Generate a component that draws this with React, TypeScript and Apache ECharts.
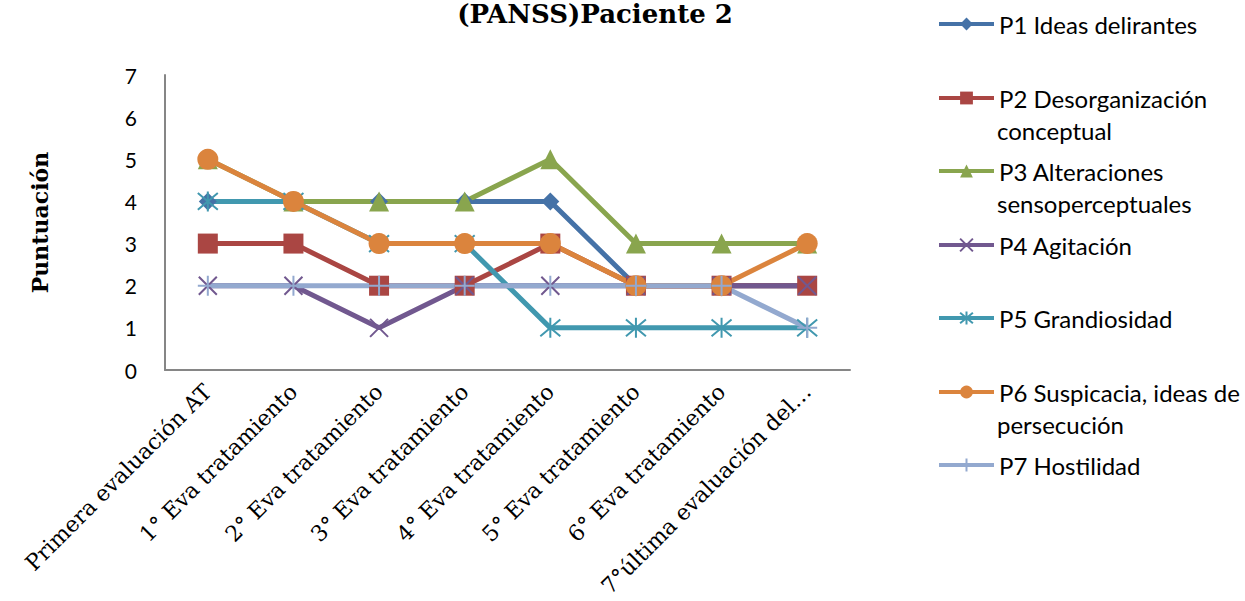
import React, { useEffect, useRef } from "react";
import * as echarts from "echarts";

const categories = [
  "Primera evaluación AT",
  "1° Eva tratamiento",
  "2° Eva tratamiento",
  "3° Eva tratamiento",
  "4° Eva tratamiento",
  "5° Eva tratamiento",
  "6° Eva tratamiento",
  "7°última evaluación del…",
];

const seriesNames = [
  "P1 Ideas delirantes",
  "P2 Desorganización conceptual",
  "P3 Alteraciones sensoperceptuales",
  "P4 Agitación",
  "P5 Grandiosidad",
  "P6 Suspicacia, ideas de persecución",
  "P7 Hostilidad",
];

const p1 = [4, 4, 4, 4, 4, 2, 2, 2];
const p2 = [3, 3, 2, 2, 3, 2, 2, 2];
const p3 = [5, 4, 4, 4, 5, 3, 3, 3];
const p4 = [2, 2, 1, 2, 2, 2, 2, 2];
const p5 = [4, 4, 3, 3, 1, 1, 1, 1];
const p6 = [5, 4, 3, 3, 3, 2, 2, 3];
const p7 = [2, 2, 2, 2, 2, 2, 2, 1];

const yTicks = [0, 1, 2, 3, 4, 5, 6, 7];

const colors = ["#4572A7", "#AA4643", "#89A54E", "#71588F", "#4198AF", "#DB843D", "#93A9CF"];
const symbols = [
  "diamond",
  "rect",
  "triangle",
  "path://M0,0L10,10M10,0L0,10",
  "path://M0,0L10,10M10,0L0,10M5,-1L5,11",
  "circle",
  "path://M5,0L5,10M0,5L10,5",
];
const symbolSizes = [18, 20, 20, 18, 20, 21, 20];

// legend first/second line split
const legendLines: [string, string][] = [
  ["P1 Ideas delirantes", ""],
  ["P2 Desorganización", "conceptual"],
  ["P3 Alteraciones", "sensoperceptuales"],
  ["P4 Agitación", ""],
  ["P5 Grandiosidad", ""],
  ["P6 Suspicacia, ideas de", "persecución"],
  ["P7 Hostilidad", ""],
];
const legendCenters = [24, 98, 171, 245, 318, 392, 465];

export default function App() {
  const ref = useRef<HTMLDivElement>(null);
  useEffect(() => {
    if (!ref.current) return;
    const chart = echarts.init(ref.current, null, { renderer: "svg" });
    const data = [p1, p2, p3, p4, p5, p6, p7];
    const legendFont = "Lato, 'Open Sans', sans-serif";
    const serif = "'DejaVu Serif', 'Liberation Serif', serif";
    const option: any = {
      animation: false,
      backgroundColor: "#ffffff",
      grid: {
        left: 165,
        right: 395,
        top: 75,
        bottom: 231,
        containLabel: false,
        outerBoundsMode: "none",
      },
      xAxis: {
        type: "category",
        data: categories,
        boundaryGap: true,
        axisLine: { show: true, lineStyle: { color: "#868686", width: 2 } },
        axisTick: { show: false },
        axisLabel: {
          rotate: 45,
          interval: 0,
          margin: 18,
          color: "#000",
          fontSize: 22,
          fontFamily: serif,
        },
        splitLine: { show: false },
      },
      yAxis: {
        type: "value",
        min: 0,
        max: 7,
        interval: 1,
        name: "Puntuación",
        nameLocation: "middle",
        nameGap: 114,
        nameTextStyle: {
          fontSize: 22,
          fontWeight: "bold",
          color: "#000",
          fontFamily: serif,
        },
        axisLine: { show: true, lineStyle: { color: "#868686", width: 2 } },
        axisTick: { show: false },
        splitLine: { show: false },
        axisLabel: {
          margin: 28,
          color: "#000",
          fontSize: 21,
          fontFamily: legendFont,
          formatter: (v: number) => (yTicks.includes(v) ? String(v) : ""),
        },
      },
      legend: seriesNames.map((name, i) => ({
        data: [name],
        left: 937,
        top: legendCenters[i] - 14,
        padding: 0,
        orient: "vertical",
        itemWidth: 55,
        itemHeight: 16,
        itemGap: 5,
        selectedMode: false,
        lineStyle: { width: 4 },
        formatter: () => legendLines[i][0],
        textStyle: { fontSize: 24, color: "#000", fontFamily: legendFont, lineHeight: 28 },
      })),
      graphic: [
        {
          type: "text",
          x: 595,
          y: 14,
          style: {
            text: "(PANSS)Paciente 2",
            align: "center",
            verticalAlign: "middle",
            font: `bold 26px ${serif}`,
            fill: "#000",
          },
        },
        ...legendLines
          .map((l, i) => ({ l, i }))
          .filter((o) => o.l[1])
          .map((o) => ({
            type: "text",
            x: 997,
            y: legendCenters[o.i] + 32,
            style: {
              text: o.l[1],
              align: "left",
              verticalAlign: "middle",
              font: `24px ${legendFont}`,
              fill: "#000",
            },
          })),
      ],
      series: seriesNames.map((name, i) => ({
        name,
        type: "line",
        data: data[i],
        symbol: symbols[i],
        symbolSize: symbolSizes[i],
        showSymbol: true,
        lineStyle: { color: colors[i], width: 5 },
        itemStyle: {
          color: colors[i],
          borderColor: colors[i],
          borderWidth: i === 3 || i === 4 || i === 6 ? 2 : 0,
        },
        emphasis: { disabled: true },
      })),
    };
    chart.setOption(option);
    return () => chart.dispose();
  }, []);
  return (
    <div
      ref={ref}
      style={{ position: "fixed", left: 0, top: 0, width: 1245, height: 601 }}
    />
  );
}
